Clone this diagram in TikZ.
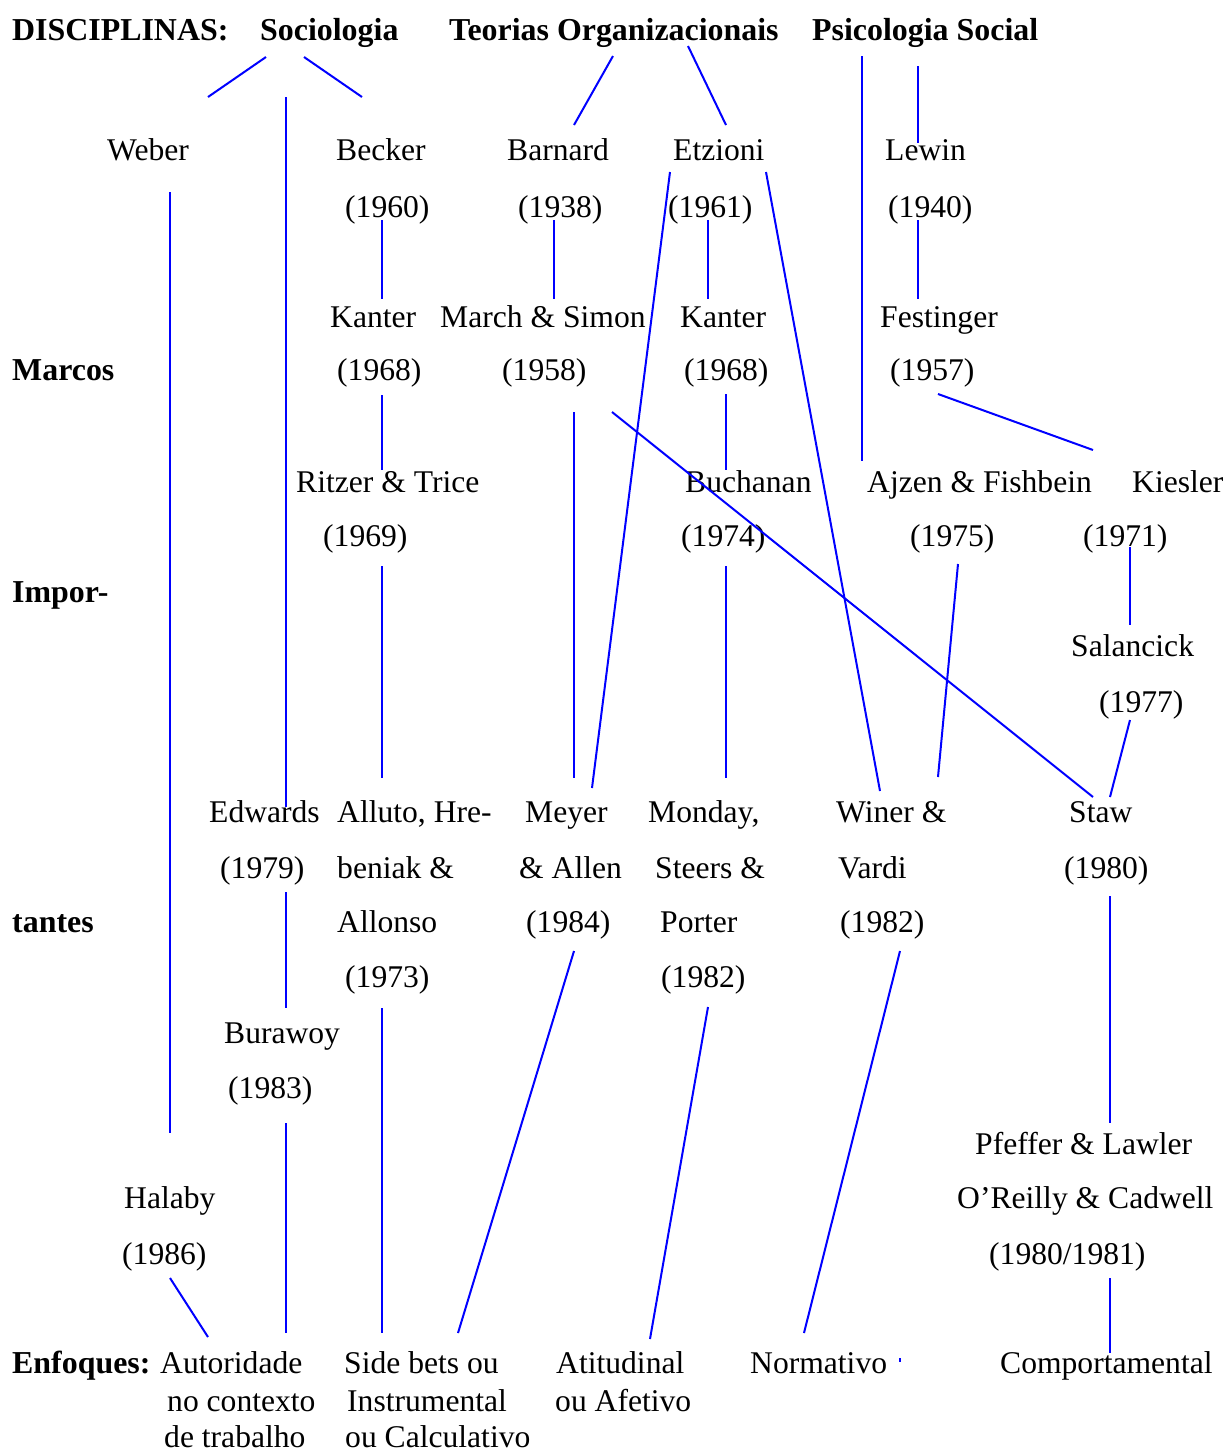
\documentclass[tikz,border=0pt]{standalone}
\usepackage{fontspec}
\setmainfont{Liberation Serif}
\begin{document}
\begin{tikzpicture}[x=1pt,y=-1pt,
  txt/.style={anchor=base west,inner sep=0pt,font=\fontsize{31.6}{38}\selectfont},
  hdr/.style={txt,font=\fontsize{31.9}{38}\selectfont\bfseries},
  link/.style={draw={rgb,255:red,0;green,0;blue,255},line width=2pt}]
\useasboundingbox (0,0) rectangle (1223,1452);

% headers
\node[hdr] (disc) at (12,40) {DISCIPLINAS:};
\node[hdr] (soc)  at (260,40) {Sociologia};
\node[hdr] (teo)  at (449,40) {Teorias Organizacionais};
\node[hdr] (psi)  at (812,40) {Psicologia Social};
\node[hdr] (marcos) at (12,380) {Marcos};
\node[hdr] (impor)  at (12,602) {Impor-};
\node[hdr] (tantes) at (12,932) {tantes};
\node[hdr] (enf)    at (12,1373) {Enfoques:};

% authors and years
\node[txt] (weber)   at (107,160) {Weber};
\node[txt] (becker)  at (336,160) {Becker};
\node[txt] (barnard) at (507,160) {Barnard};
\node[txt] (etzioni) at (673,160) {Etzioni};
\node[txt] (lewin)   at (885,160) {Lewin};
\node[txt] (becker-y)  at (345,217) {(1960)};
\node[txt] (barnard-y) at (518,217) {(1938)};
\node[txt] (etzioni-y) at (668,217) {(1961)};
\node[txt] (lewin-y)   at (888,217) {(1940)};

\node[txt] (kanterA) at (330,327) {Kanter};
\node[txt] (march)   at (440,327) {March \& Simon};
\node[txt] (kanterB) at (680,327) {Kanter};
\node[txt] (festing) at (880,327) {Festinger};
\node[txt] (kanterA-y) at (337,380) {(1968)};
\node[txt] (march-y)   at (502,380) {(1958)};
\node[txt] (kanterB-y) at (684,380) {(1968)};
\node[txt] (festing-y) at (890,380) {(1957)};

\node[txt] (ritzer)   at (296,492) {Ritzer \& Trice};
\node[txt] (buchanan) at (685,492) {Buchanan};
\node[txt] (ajzen)    at (867,492) {Ajzen \& Fishbein};
\node[txt] (kiesler)  at (1132,492) {Kiesler};
\node[txt] (ritzer-y)   at (323,546) {(1969)};
\node[txt] (buchanan-y) at (681,546) {(1974)};
\node[txt] (ajzen-y)    at (910,546) {(1975)};
\node[txt] (kiesler-y)  at (1083,546) {(1971)};

\node[txt] (salancick)   at (1071,656) {Salancick};
\node[txt] (salancick-y) at (1099,712) {(1977)};

\node[txt] (edwards)  at (209,822) {Edwards};
\node[txt] (alluto)   at (337,822) {Alluto, Hre-};
\node[txt] (meyer)    at (525,822) {Meyer};
\node[txt] (monday)   at (648,822) {Monday,};
\node[txt] (winer)    at (836,822) {Winer \&};
\node[txt] (staw)     at (1069,822) {Staw};
\node[txt] (edwards-y) at (220,878) {(1979)};
\node[txt] (alluto-2)  at (337,878) {beniak \&};
\node[txt] (meyer-2)   at (519,878) {\& Allen};
\node[txt] (monday-2)  at (655,878) {Steers \&};
\node[txt] (winer-2)   at (838,878) {Vardi};
\node[txt] (staw-y)    at (1064,878) {(1980)};
\node[txt] (alluto-3)  at (337,932) {Allonso};
\node[txt] (meyer-y)   at (526,932) {(1984)};
\node[txt] (monday-3)  at (660,932) {Porter};
\node[txt] (winer-y)   at (840,932) {(1982)};
\node[txt] (alluto-y)  at (345,987) {(1973)};
\node[txt] (monday-y)  at (661,987) {(1982)};

\node[txt] (burawoy)   at (224,1043) {Burawoy};
\node[txt] (burawoy-y) at (228,1098) {(1983)};

\node[txt] (pfeffer)   at (975,1154) {Pfeffer \& Lawler};
\node[txt] (halaby)    at (124,1208) {Halaby};
\node[txt] (oreilly)   at (957,1208) {O’Reilly \& Cadwell};
\node[txt] (halaby-y)  at (122,1264) {(1986)};
\node[txt] (pfeffer-y) at (989,1264) {(1980/1981)};

% approaches
\node[txt] (autor)   at (160,1373) {Autoridade};
\node[txt] (autor-2) at (167,1411) {no contexto};
\node[txt] (autor-3) at (164,1447) {de trabalho};
\node[txt] (side)    at (344,1373) {Side bets ou};
\node[txt] (side-2)  at (347,1411) {Instrumental};
\node[txt] (side-3)  at (345,1447) {ou Calculativo};
\node[txt] (atit)    at (556,1373) {Atitudinal};
\node[txt] (atit-2)  at (555,1411) {ou Afetivo};
\node[txt] (norm)    at (750,1373) {Normativo};
\node[txt] (comp)    at (1000,1373) {Comportamental};

% connector end points
\coordinate (soc-a) at (266,57);   \coordinate (weber-t) at (208,97);
\coordinate (soc-b) at (304,57);   \coordinate (becker-t) at (362,97);
\coordinate (soc-c) at (286,97);   \coordinate (edwards-t) at (286,807);
\coordinate (teo-a) at (613,56);   \coordinate (barnard-t) at (574,125);
\coordinate (teo-b) at (688,46);   \coordinate (etzioni-t) at (726,125);
\coordinate (psi-a) at (862,56);   \coordinate (ajzen-t) at (862,461);
\coordinate (psi-b) at (918,66);   \coordinate (lewin-t) at (918,143);
\coordinate (weber-b) at (170,192); \coordinate (halaby-t) at (170,1133);
\coordinate (becker-b) at (382,220); \coordinate (kanterA-t) at (382,299);
\coordinate (barnard-b) at (554,220); \coordinate (march-t) at (554,299);
\coordinate (etzioni-b) at (708,220); \coordinate (kanterB-t) at (708,299);
\coordinate (lewin-b) at (918,220); \coordinate (festing-t) at (918,299);
\coordinate (etzioni-l) at (670,172); \coordinate (meyer-t) at (592,788);
\coordinate (etzioni-r) at (766,172); \coordinate (winer-t) at (880,791);
\coordinate (kanterA-b) at (382,395); \coordinate (ritzer-t) at (382,470);
\coordinate (march-b) at (574,412); \coordinate (meyer-tv) at (574,778);
\coordinate (march-d) at (612,412); \coordinate (staw-tl) at (1093,797);
\coordinate (kanterB-b) at (726,394); \coordinate (buchanan-t) at (726,470);
\coordinate (festing-b) at (938,394); \coordinate (kiesler-t) at (1093,450);
\coordinate (ritzer-b) at (382,566); \coordinate (alluto-t) at (382,778);
\coordinate (buchanan-b) at (726,566); \coordinate (monday-t) at (726,778);
\coordinate (ajzen-b) at (958,564); \coordinate (winer-tr) at (938,777);
\coordinate (kiesler-b) at (1130,547); \coordinate (salancick-t) at (1130,625);
\coordinate (salancick-b) at (1130,720); \coordinate (staw-tr) at (1110,797);
\coordinate (edwards-b) at (286,892); \coordinate (burawoy-t) at (286,1008);
\coordinate (meyer-b) at (574,951); \coordinate (side-t) at (458,1333);
\coordinate (alluto-b) at (382,1008); \coordinate (side-tv) at (382,1333);
\coordinate (monday-b) at (708,1007); \coordinate (atit-t) at (650,1339);
\coordinate (winer-b) at (900,951); \coordinate (norm-t) at (804,1333);
\coordinate (staw-b) at (1110,896); \coordinate (pfeffer-t) at (1110,1123);
\coordinate (burawoy-b) at (286,1123); \coordinate (autor-t) at (286,1333);
\coordinate (halaby-b) at (170,1278); \coordinate (autor-tl) at (208,1337);
\coordinate (pfeffer-b) at (1110,1278); \coordinate (comp-t) at (1110,1353);
\coordinate (tick-a) at (900,1358); \coordinate (tick-b) at (900,1362);

% connectors
\draw[link] (soc-a) -- (weber-t);
\draw[link] (soc-b) -- (becker-t);
\draw[link] (soc-c) -- (edwards-t);
\draw[link] (teo-a) -- (barnard-t);
\draw[link] (teo-b) -- (etzioni-t);
\draw[link] (psi-a) -- (ajzen-t);
\draw[link] (psi-b) -- (lewin-t);
\draw[link] (weber-b) -- (halaby-t);
\draw[link] (becker-b) -- (kanterA-t);
\draw[link] (barnard-b) -- (march-t);
\draw[link] (etzioni-b) -- (kanterB-t);
\draw[link] (lewin-b) -- (festing-t);
\draw[link] (etzioni-l) -- (meyer-t);
\draw[link] (etzioni-r) -- (winer-t);
\draw[link] (kanterA-b) -- (ritzer-t);
\draw[link] (march-b) -- (meyer-tv);
\draw[link] (march-d) -- (staw-tl);
\draw[link] (kanterB-b) -- (buchanan-t);
\draw[link] (festing-b) -- (kiesler-t);
\draw[link] (ritzer-b) -- (alluto-t);
\draw[link] (buchanan-b) -- (monday-t);
\draw[link] (ajzen-b) -- (winer-tr);
\draw[link] (kiesler-b) -- (salancick-t);
\draw[link] (salancick-b) -- (staw-tr);
\draw[link] (edwards-b) -- (burawoy-t);
\draw[link] (meyer-b) -- (side-t);
\draw[link] (alluto-b) -- (side-tv);
\draw[link] (monday-b) -- (atit-t);
\draw[link] (winer-b) -- (norm-t);
\draw[link] (staw-b) -- (pfeffer-t);
\draw[link] (burawoy-b) -- (autor-t);
\draw[link] (halaby-b) -- (autor-tl);
\draw[link] (pfeffer-b) -- (comp-t);
\draw[link] (tick-a) -- (tick-b);
\end{tikzpicture}
\end{document}
